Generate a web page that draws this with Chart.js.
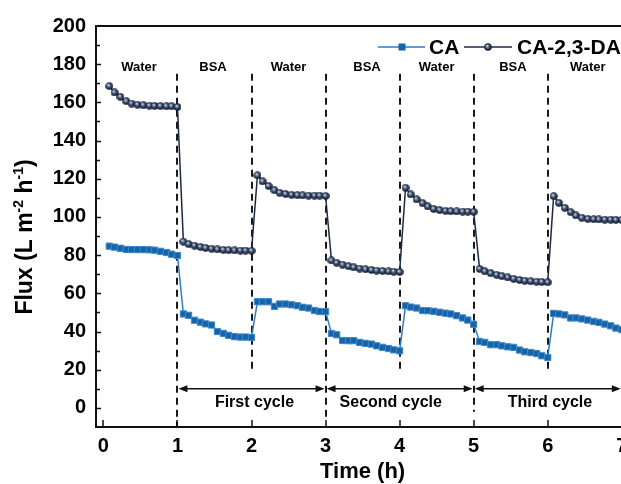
<!DOCTYPE html>
<html><head><meta charset="utf-8">
<script src="https://cdn.jsdelivr.net/npm/chart.js@4.4.1/dist/chart.umd.min.js"></script>
<style>
html,body{margin:0;padding:0;background:#fff;overflow:hidden;width:621px;height:484px}
#wrap{width:650px;height:484px;position:relative}
</style></head>
<body><div id="wrap"><canvas id="c" width="650" height="484"></canvas></div>
<script>
// ---- data ----
const timeH = [
 0.08,0.15,0.23,0.31,0.38,0.46,0.54,0.62,0.69,0.77,0.85,0.92,1.00,
 1.08,1.15,1.23,1.31,1.38,1.46,1.54,1.62,1.69,1.77,1.85,1.92,2.00,
 2.08,2.15,2.23,2.31,2.38,2.46,2.54,2.62,2.69,2.77,2.85,2.92,3.00,
 3.08,3.15,3.23,3.31,3.38,3.46,3.54,3.62,3.69,3.77,3.85,3.92,4.00,
 4.08,4.15,4.23,4.31,4.38,4.46,4.54,4.62,4.69,4.77,4.85,4.92,5.00,
 5.08,5.15,5.23,5.31,5.38,5.46,5.54,5.62,5.69,5.77,5.85,5.92,6.00,
 6.08,6.15,6.23,6.31,6.38,6.46,6.54,6.62,6.69,6.77,6.85,6.92,7.00
];
const fluxCA = [
 84.7,84.2,83.6,83.0,82.9,82.9,82.9,82.8,82.6,82.0,81.4,80.5,79.8,
 49.2,48.5,45.9,44.9,44.0,43.4,40.0,39.0,38.0,37.3,37.1,37.1,36.9,
 55.6,55.6,55.6,53.2,54.4,54.4,54.0,53.5,52.7,52.3,51.0,50.5,50.4,
 39.0,38.3,35.3,35.2,35.2,34.3,33.8,33.4,32.5,31.7,31.1,30.4,29.9,
 53.5,52.8,52.3,51.0,50.9,50.6,50.1,49.6,49.2,48.3,47.1,46.0,43.8,
 34.8,34.3,33.1,33.1,32.5,32.0,31.7,30.3,29.4,29.0,28.5,27.3,26.4,
 49.5,49.2,48.7,47.1,47.1,46.6,46.0,45.3,44.8,43.9,43.0,41.8,41.0
];
const fluxCADA = [
 168.5,165.2,162.9,160.6,159.4,158.8,158.5,158.3,158.2,158.1,158.0,158.0,157.6,
 87.1,85.8,85.0,84.3,83.8,83.4,83.0,82.8,82.6,82.5,82.4,82.4,82.3,
 121.8,118.6,116.2,114.0,112.7,112.0,111.6,111.4,111.3,111.2,111.2,111.2,111.0,
 77.2,76.0,75.0,74.2,73.6,73.0,72.6,72.2,71.9,71.7,71.5,71.4,71.2,
 115.3,111.8,109.2,107.2,105.5,104.2,103.6,103.2,103.0,102.9,102.8,102.8,102.7,
 72.8,71.5,70.5,69.7,69.0,68.3,67.6,67.0,66.6,66.3,66.1,66.0,65.8,
 110.9,107.4,104.8,102.5,100.8,99.6,99.0,98.8,98.7,98.6,98.6,98.5,98.5
];
const seriesNames = ['CA','CA-2,3-DA'];
const xTickValues = [0,1,2,3,4,5,6,7];
const yTickValues = [0,20,40,60,80,100,120,140,160,180,200];
const phaseLabels = ['Water','BSA','Water','BSA','Water','BSA','Water'];
const phaseX = [0.48,1.48,2.5,3.56,4.5,5.53,6.54];
const phaseY = 178.5;
const dividerX = [1,2,3,4,5,6];
const dividerTop = 175;
const dividerBottom = [-10,20,-6,20,-2,20];
const cycleLabels = ['First cycle','Second cycle','Third cycle'];
const cycleStart = [1,3,5];
const cycleEnd = [3,5,7];
const cycleLabelX = [2.04,3.88,6.03];
const arrowY = 10;
const cycleLabelY = 3;

const FONT = '"Liberation Sans", Arial, Helvetica, sans-serif';
const CA_LINE = '#2b7cc4', CA_FILL = '#1763a8', CA_EDGE = '#3d88c9';
const DA_LINE = '#1b2a42';

// sphere marker
function makeSphere(){
  const s = 8, c = document.createElement('canvas');
  c.width = s; c.height = s;
  const g = c.getContext('2d');
  const grad = g.createRadialGradient(3,2.8,0.2,4,4,4);
  grad.addColorStop(0,'#e8eef8');
  grad.addColorStop(0.35,'#5b6f8f');
  grad.addColorStop(0.7,'#1d2c47');
  grad.addColorStop(1,'#0a1222');
  g.fillStyle = grad;
  g.beginPath(); g.arc(4,4,3.8,0,Math.PI*2); g.fill();
  return c;
}
const sphere = makeSphere();

const annot = {
  id:'annot',
  beforeDatasetsDraw(chart){
    const {ctx, scales:{x,y}} = chart;
    ctx.save();
    ctx.strokeStyle = '#1a1a1a'; ctx.lineWidth = 2; ctx.setLineDash([7,5]);
    dividerX.forEach((t,i)=>{
      const px = Math.round(x.getPixelForValue(t));
      ctx.beginPath();
      ctx.moveTo(px, y.getPixelForValue(dividerTop));
      ctx.lineTo(px, y.getPixelForValue(dividerBottom[i]));
      ctx.stroke();
    });
    ctx.restore();
  },
  afterDraw(chart){
    const {ctx, scales:{x,y}, chartArea:a} = chart;
    ctx.save();
    // frame
    ctx.strokeStyle = '#111'; ctx.lineWidth = 2; ctx.setLineDash([]);
    ctx.strokeRect(a.left, a.top, a.right-a.left, a.bottom-a.top);
    // y ticks (inward)
    ctx.lineWidth = 1.5;
    for (let v = 0; v < 200; v += 10){
      const py = Math.round(y.getPixelForValue(v))+0.5;
      const len = (v % 20 === 0) ? 5 : 4;
      ctx.beginPath(); ctx.moveTo(a.left, py); ctx.lineTo(a.left+len, py); ctx.stroke();
    }
    // x ticks (inward)
    xTickValues.forEach(v=>{
      const px = Math.round(x.getPixelForValue(v));
      ctx.beginPath(); ctx.moveTo(px, a.bottom); ctx.lineTo(px, a.bottom-7); ctx.stroke();
    });
    // phase labels
    ctx.fillStyle = '#000';
    ctx.font = 'bold 13px ' + FONT;
    ctx.textAlign = 'center'; ctx.textBaseline = 'middle';
    phaseLabels.forEach((s,i)=> ctx.fillText(s, x.getPixelForValue(phaseX[i]), y.getPixelForValue(phaseY)));
    // cycle arrows
    ctx.strokeStyle = '#111'; ctx.fillStyle = '#111'; ctx.lineWidth = 1.5;
    const ay = y.getPixelForValue(arrowY);
    cycleStart.forEach((s,i)=>{
      const x1 = x.getPixelForValue(s)+1, x2 = x.getPixelForValue(cycleEnd[i])-1;
      ctx.beginPath(); ctx.moveTo(x1+4, ay); ctx.lineTo(x2-4, ay); ctx.stroke();
      ctx.beginPath(); ctx.moveTo(x1, ay); ctx.lineTo(x1+9, ay-3.5); ctx.lineTo(x1+9, ay+3.5); ctx.closePath(); ctx.fill();
      ctx.beginPath(); ctx.moveTo(x2, ay); ctx.lineTo(x2-9, ay-3.5); ctx.lineTo(x2-9, ay+3.5); ctx.closePath(); ctx.fill();
    });
    ctx.fillStyle = '#000';
    ctx.font = 'bold 16px ' + FONT;
    cycleLabels.forEach((s,i)=> ctx.fillText(s, x.getPixelForValue(cycleLabelX[i]), y.getPixelForValue(cycleLabelY)));
    // legend
    const ly = y.getPixelForValue(189);
    ctx.lineWidth = 1.5;
    ctx.strokeStyle = CA_LINE;
    ctx.beginPath(); ctx.moveTo(378, ly); ctx.lineTo(425, ly); ctx.stroke();
    ctx.fillStyle = CA_FILL; ctx.fillRect(398.5, ly-3.5, 7, 7);
    ctx.strokeStyle = DA_LINE;
    ctx.beginPath(); ctx.moveTo(464, ly); ctx.lineTo(512, ly); ctx.stroke();
    ctx.drawImage(sphere, 484, ly-4);
    ctx.fillStyle = '#000';
    ctx.font = 'bold 21px ' + FONT;
    ctx.textAlign = 'left';
    ctx.fillText(seriesNames[0], 429, ly+1);
    ctx.fillText(seriesNames[1], 517, ly+1);
    // x title
    ctx.textAlign = 'center';
    ctx.font = 'bold 22px ' + FONT;
    ctx.fillText('Time (h)', x.getPixelForValue(3.5), 472);
    // y title with superscripts
    ctx.save();
    ctx.translate(32, 237);
    ctx.rotate(-Math.PI/2);
    ctx.textAlign = 'left'; ctx.textBaseline = 'alphabetic';
    const parts = [['Flux (L m',0],['-2',1],[' h',0],['-1',1],[')',0]];
    const fMain = 'bold 23px ' + FONT, fSup = 'bold 14px ' + FONT;
    let total = 0;
    parts.forEach(p=>{ ctx.font = p[1]?fSup:fMain; total += ctx.measureText(p[0]).width; });
    let cx = -total/2;
    parts.forEach(p=>{
      ctx.font = p[1]?fSup:fMain;
      ctx.fillText(p[0], cx, p[1] ? -9 : 0);
      cx += ctx.measureText(p[0]).width;
    });
    ctx.restore();
    ctx.restore();
  }
};

new Chart(document.getElementById('c'), {
  type:'line',
  data:{datasets:[
    {label:seriesNames[0], data: timeH.map((t,i)=>({x:t,y:fluxCA[i]})),
     borderColor:CA_LINE, borderWidth:1.5, pointStyle:'rect', pointRadius:4.4,
     pointBackgroundColor:CA_FILL, pointBorderColor:CA_EDGE, pointBorderWidth:1, tension:0},
    {label:seriesNames[1], data: timeH.map((t,i)=>({x:t,y:fluxCADA[i]})),
     borderColor:DA_LINE, borderWidth:1.5, pointStyle:sphere, pointRadius:4, tension:0}
  ]},
  options:{
    responsive:false, animation:false, devicePixelRatio:1,
    layout:{padding:{top:26,right:6,left:0,bottom:0}},
    plugins:{legend:{display:false}, tooltip:{enabled:false}},
    scales:{
      x:{type:'linear', min:-0.1, max:7.3,
         afterBuildTicks:s=>{ s.ticks = xTickValues.map(v=>({value:v})); },
         afterFit:s=>{ s.height = 57; },
         grid:{display:false, drawTicks:false}, border:{display:false},
         ticks:{color:'#000', font:{family:FONT,size:20,weight:'bold'}, padding:7, maxRotation:0, autoSkip:false,
                callback:v=>String(v)}},
      y:{type:'linear', min:-10, max:200,
         afterBuildTicks:s=>{ s.ticks = yTickValues.map(v=>({value:v})); },
         afterFit:s=>{ s.width = 96; },
         grid:{display:false, drawTicks:false}, border:{display:false},
         ticks:{color:'#000', font:{family:FONT,size:20,weight:'bold'}, padding:10,
                callback:v=>String(v)}}
    }
  },
  plugins:[annot]
});
</script>
</body></html>
